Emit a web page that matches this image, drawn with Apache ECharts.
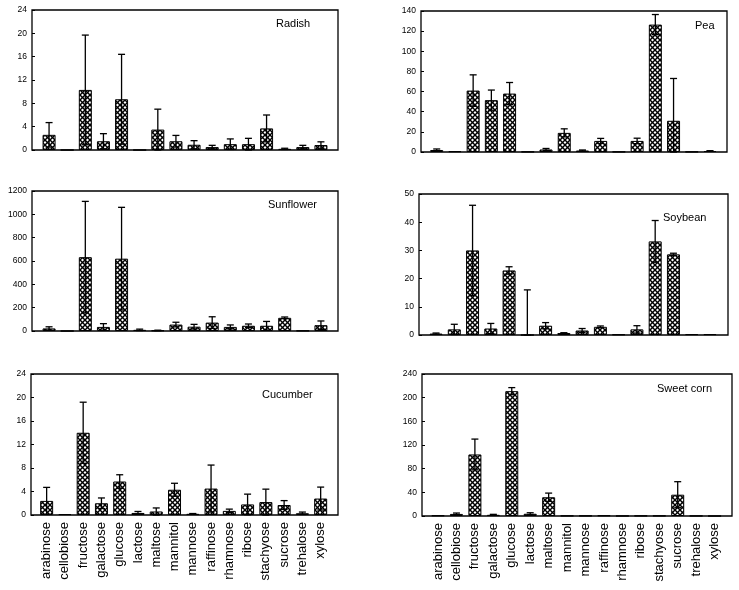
<!DOCTYPE html>
<html>
<head>
<meta charset="utf-8">
<script src="https://cdn.jsdelivr.net/npm/echarts@6/dist/echarts.min.js"></script>
<style>
html,body{margin:0;padding:0;background:#fff;}
#chart{width:739px;height:590px;}
</style>
</head>
<body>
<div id="chart"></div>
<script>
const categories = ['arabinose','cellobiose','fructose','galactose','glucose','lactose','maltose','mannitol','mannose','raffinose','rhamnose','ribose','stachyose','sucrose','trehalose','xylose'];

const radishValues = [2.6, 0, 10.3, 1.5, 8.7, 0, 3.5, 1.5, 0.9, 0.5, 1.0, 1.0, 3.7, 0.2, 0.5, 0.85];
const radishErrors = [2.1, 0, 9.4, 1.3, 7.7, 0, 3.5, 1.0, 0.7, 0.3, 0.9, 1.0, 2.3, 0.1, 0.3, 0.55];

const peaValues = [2, 0.8, 61, 51.5, 58, 0.3, 2.5, 19, 1.5, 11, 0.3, 11, 126.5, 31, 0.3, 1];
const peaErrors = [1, 0, 15.6, 10, 11, 0, 1, 4, 0.5, 2.5, 0, 2.7, 10, 42, 0, 0.3];

const sunflowerValues = [22, 0, 633, 35, 620, 10, 5, 55, 37, 72, 35, 45, 45, 113, 3, 50];
const sunflowerErrors = [14, 0, 478, 28, 440, 6, 2, 20, 20, 50, 17, 15, 37, 7, 0, 36];

const soybeanValues = [0.5, 2, 30, 2.3, 22.9, 0, 3.3, 0.7, 1.6, 2.9, 0.2, 2, 33.2, 28.6, 0.3, 0.3];
const soybeanErrors = [0.2, 1.8, 16, 1.8, 1.3, 16, 1.1, 0.1, 0.7, 0.3, 0, 1.3, 7.4, 0.4, 0, 0];

const cucumberValues = [2.4, 0.15, 14, 2, 5.7, 0.35, 0.6, 4.3, 0.2, 4.5, 0.7, 1.8, 2.2, 1.7, 0.3, 2.8];
const cucumberErrors = [2.3, 0, 5.2, 0.9, 1.15, 0.25, 0.6, 1.1, 0.05, 4, 0.3, 1.75, 2.2, 0.75, 0.2, 1.95];

const sweetCornValues = [1, 3.5, 104, 2, 211, 3.8, 31.7, 0.5, 0.5, 1, 0.2, 0.5, 0.5, 36, 0.3, 0];
const sweetCornErrors = [0, 1.5, 26, 0.8, 6, 1.7, 7, 0, 0, 0, 0, 0, 0, 22, 0, 0];

const panelNames = ['Radish','Pea','Sunflower','Soybean','Cucumber','Sweet corn'];
const yMaxes = [24, 140, 1200, 50, 24, 240];
const yIntervals = [4, 20, 200, 10, 4, 40];

// layout (pixels)
const frames = [
  {l:32, r:338, t:10, b:150, dl:40, dr:330, tx:276, ty:18},
  {l:421, r:727, t:11, b:152, dl:427.6, dr:719.1, tx:695, ty:20},
  {l:32, r:338, t:191, b:331, dl:40, dr:330, tx:268, ty:199},
  {l:419, r:728, t:194, b:335, dl:426.9, dr:719.1, tx:663, ty:212},
  {l:31, r:338, t:374, b:515, dl:37.5, dr:329.8, tx:262, ty:389},
  {l:422, r:732, t:374, b:516, dl:428.8, dr:723.8, tx:657, ty:383}
];
const panelValues = [radishValues, peaValues, sunflowerValues, soybeanValues, cucumberValues, sweetCornValues];
const panelErrors = [radishErrors, peaErrors, sunflowerErrors, soybeanErrors, cucumberErrors, sweetCornErrors];

function makePattern(){
  const s = 5;
  const c = document.createElement('canvas');
  c.width = s; c.height = s;
  const g = c.getContext('2d');
  g.fillStyle = '#fff';
  g.fillRect(0,0,s,s);
  g.strokeStyle = '#000';
  g.lineWidth = 1.4;
  for (let k = -1; k <= 1; k++) {
    g.beginPath(); g.moveTo(k*s - 1, -1); g.lineTo(k*s + s + 1, s + 1); g.stroke();
    g.beginPath(); g.moveTo(k*s + s + 1, -1); g.lineTo(k*s - 1, s + 1); g.stroke();
  }
  return c;
}
const hatch = {image: makePattern(), repeat: 'repeat'};

function renderErr(params, api){
  const x = api.value(0), lo = api.value(1), hi = api.value(2);
  if (hi - lo <= 0) return null;
  const top = api.coord([x, hi]);
  const bot = api.coord([x, lo]);
  const hw = 3.5;
  const st = {stroke:'#000', lineWidth:1.3};
  return {type:'group', children:[
    {type:'line', shape:{x1:top[0], y1:top[1], x2:bot[0], y2:bot[1]}, style:st},
    {type:'line', shape:{x1:top[0]-hw, y1:top[1], x2:top[0]+hw, y2:top[1]}, style:st},
    {type:'line', shape:{x1:bot[0]-hw, y1:bot[1], x2:bot[0]+hw, y2:bot[1]}, style:st}
  ]};
}

const grid = [], xAxis = [], yAxis = [], series = [], title = [];
frames.forEach((f, i) => {
  const fg = grid.length;
  grid.push({left:f.l, top:f.t, width:f.r - f.l, height:f.b - f.t, show:true, borderColor:'#000', borderWidth:1.3, backgroundColor:'transparent'});
  xAxis.push({gridIndex:fg, type:'category', data:categories, show:false});
  yAxis.push({gridIndex:fg, type:'value', min:0, max:yMaxes[i], interval:yIntervals[i],
    axisLine:{show:false}, splitLine:{show:false},
    axisTick:{show:true, inside:true, length:3, lineStyle:{color:'#000', width:1}},
    axisLabel:{color:'#000', fontSize:8.5, fontFamily:'Liberation Sans, Arial, sans-serif', margin:5,
      formatter:(v) => String(v)}});
  const dg = grid.length;
  grid.push({left:f.dl, top:f.t, width:f.dr - f.dl, height:f.b - f.t});
  const bottom = i >= 4;
  xAxis.push({gridIndex:dg, type:'category', data:categories, boundaryGap:true,
    axisLine:{show:false}, axisTick:{show:false},
    axisLabel:{show:bottom, rotate:90, color:'#000', fontSize:13, fontFamily:'Liberation Sans, Arial, sans-serif', margin:7, interval:0}});
  yAxis.push({gridIndex:dg, type:'value', min:0, max:yMaxes[i], show:false, splitLine:{show:false}});
  const vals = panelValues[i], errs = panelErrors[i];
  series.push({type:'bar', xAxisIndex:dg, yAxisIndex:dg, data:vals, barWidth:13,
    itemStyle:{color:hatch, borderColor:'#000', borderWidth:1}, silent:true, animation:false});
  series.push({type:'custom', xAxisIndex:dg, yAxisIndex:dg, renderItem:renderErr, z:5, animation:false, silent:true,
    encode:{x:0, y:[1,2]},
    data:vals.map((v, k) => [k, Math.max(0, v - errs[k]), v + errs[k]])});
  title.push({text:panelNames[i], left:f.tx, top:f.ty, padding:0,
    textStyle:{fontSize:11, fontWeight:'normal', color:'#000', fontFamily:'Liberation Sans, Arial, sans-serif'}});
});

const chart = echarts.init(document.getElementById('chart'), null, {renderer:'canvas'});
chart.setOption({animation:false, backgroundColor:'#fff', title, grid, xAxis, yAxis, series});
</script>
</body>
</html>
